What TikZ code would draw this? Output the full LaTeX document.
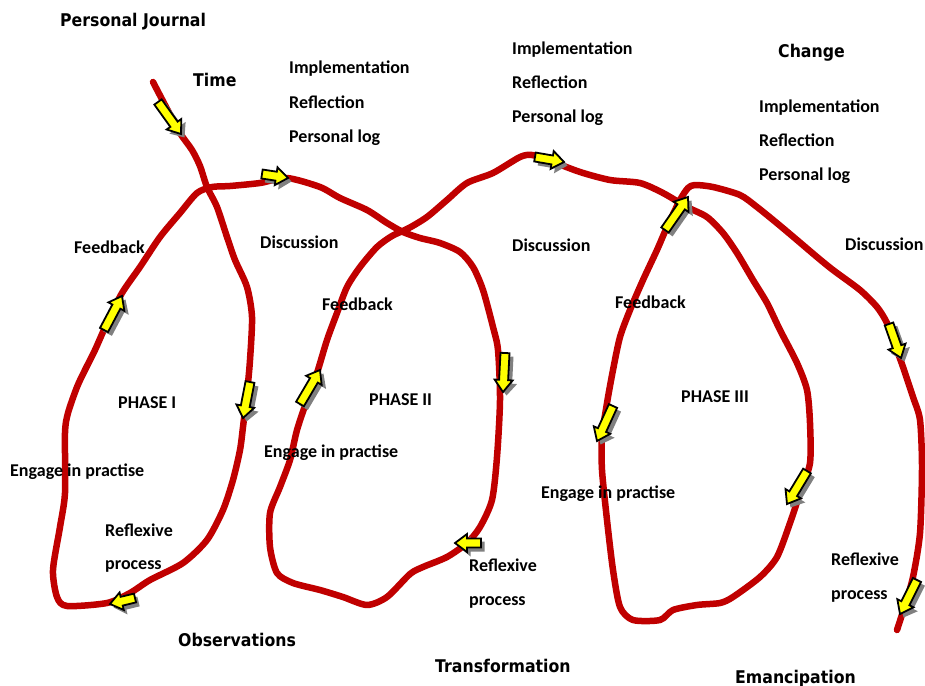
\documentclass[tikz,border=0pt]{standalone}
\usepackage{fontspec}
\setmainfont{Carlito}
\newfontfamily\comicfont{DejaVu Sans}[FakeStretch=0.9]
\usetikzlibrary{calc}
\definecolor{loopred}{HTML}{C00000}
\definecolor{arrowyellow}{HTML}{FFFF00}
\definecolor{arrowshadow}{HTML}{808080}

% Block arrow from tail (#1,#2) to tip (#3,#4), with a drop shadow
\newcommand\flowarrow[4]{%
  \pgfmathsetmacro\arang{atan2(-(#4-#2),#3-#1)}%
  \pgfmathsetmacro\arlen{veclen(#3-#1,#4-#2)}%
  \pgfmathsetmacro\arneck{\arlen-12}%
  \fill[arrowshadow,shift={(#1+3.5,#2+3.5)},rotate=\arang]
    (0,-5) -- (\arneck,-5) -- (\arneck,-10) -- (\arlen,0) -- (\arneck,10) -- (\arneck,5) -- (0,5) -- cycle;
  \filldraw[fill=arrowyellow,draw=black,line width=1.8bp,line join=miter,shift={(#1,#2)},rotate=\arang]
    (0,-4.5) -- (\arneck,-4.5) -- (\arneck,-9) -- (\arlen,0) -- (\arneck,9) -- (\arneck,4.5) -- (0,4.5) -- cycle;
}

\tikzset{
  label/.style={anchor=base west,inner sep=0pt,font=\fontsize{18bp}{20bp}\selectfont\bfseries},
  title/.style={anchor=base west,inner sep=0pt,font=\comicfont\fontsize{17.5bp}{20bp}\selectfont\bfseries},
  cycleline/.style={draw=loopred,line width=6.5bp,line cap=round,line join=round}
}

\begin{document}
\begin{tikzpicture}[x=1bp,y=-1bp]
\useasboundingbox (0,0) rectangle (925,686);
\fill[white] (0,0) rectangle (925,686);

% The spiral of the three action-research cycles
\draw[cycleline] plot[smooth,tension=0.45] coordinates {
 (153,82) (165,105) (180,133) (192,150) (200,166) (207,187) (217,207) (227,237) (235,260)
 (247,287) (252,317) (250,360) (247,393) (243,427) (240,450) (233,480) (223,510)
 (207,540) (183,563) (150,580) (130,593) (107,603) (67,606) (57,597) (53,570)
 (60,527) (65,493) (65,433) (68,413) (77,387) (85,370) (95,350) (107,323) (122,293)
 (140,267) (160,237) (180,213) (197,193) (212,187) (230,186) (260,183) (287,178)
 (320,187) (340,198) (367,210) (387,223) (403,232) (420,238) (440,243) (460,252)
 (473,267) (483,290) (493,327) (498,350) (500,400) (497,457) (492,500) (480,527)
 (467,543) (447,557) (423,567) (410,574) (387,597) (367,605) (343,597) (320,590)
 (293,583) (277,573) (270,547) (270,513) (280,487) (290,460) (297,430) (307,400)
 (317,373) (327,340) (337,313) (347,287) (360,267) (377,247) (392,236) (409,228)
 (427,217) (447,200) (467,183) (493,173) (520,157) (532,155) (548,160) (580,172)
 (610,180) (640,183) (663,193) (687,207) (707,217) (723,233) (737,253) (753,280)
 (767,303) (780,330) (797,363) (807,390) (810,423) (810,463) (800,493) (790,523)
 (777,557) (760,577) (733,597) (720,603) (697,605) (673,610) (660,620) (633,620)
 (620,607) (613,570) (607,520) (602,470) (602,437) (607,403) (613,370) (620,337)
 (630,310) (643,280) (657,250) (667,227) (680,200) (688,188) (695,185) (713,187)
 (740,195) (757,207) (778,224) (797,240) (817,257) (833,270) (860,290) (877,307)
 (887,323) (895,345) (903,367) (913,397) (920,420) (922,467) (920,533) (913,577)
 (905,605) (897,630)
};

% Direction arrows along the spiral
\flowarrow{158}{102}{181}{134}
\flowarrow{262}{174}{288}{178}
\flowarrow{104}{330}{122}{296}
\flowarrow{250}{382}{243}{418}
\flowarrow{135}{598}{110}{604}
\flowarrow{535}{157}{564}{162}
\flowarrow{300}{404}{320}{370}
\flowarrow{505}{353}{503}{392}
\flowarrow{481}{543}{455}{543}
\flowarrow{665}{230}{688}{197}
\flowarrow{613}{406}{597}{441}
\flowarrow{807}{471}{787}{504}
\flowarrow{889}{324}{901}{358}
\flowarrow{917}{580}{900}{614}

% Headings
\node[title] (journal) at (60,27) {Personal Journal};
\node[title] (time) at (193,87) {Time};
\node[title] (change) at (778,58) {Change};
\node[title] (observ) at (178,646) {Observations};
\node[title] (transf) at (435,672) {Transformation};
\node[title] (emanc) at (735,683) {Emancipation};

% Phase I labels
\node[label] (impA) at (289,74) {Implementation};
\node[label] (refA) at (289,109) {Reflection};
\node[label] (logA) at (289,143) {Personal log};
\node[label] (fbA) at (74,253) {Feedback};
\node[label] (discA) at (260,248) {Discussion};
\node[label] (phA) at (118,408) {PHASE I};
\node[label] (engA) at (10,476) {Engage in practise};
\node[label] (rfxA) at (105,536) {Reflexive};
\node[label] (prcA) at (105,569) {process};

% Phase II labels
\node[label] (impB) at (512,55) {Implementation};
\node[label] (refB) at (512,89) {Reflection};
\node[label] (logB) at (512,123) {Personal log};
\node[label] (fbB) at (322,310) {Feedback};
\node[label] (discB) at (512,251) {Discussion};
\node[label] (phB) at (369,405) {PHASE II};
\node[label] (engB) at (264,457) {Engage in practise};
\node[label] (rfxB) at (469,571) {Reflexive};
\node[label] (prcB) at (469,605) {process};

% Phase III labels
\node[label] (impC) at (759,113) {Implementation};
\node[label] (refC) at (759,147) {Reflection};
\node[label] (logC) at (759,181) {Personal log};
\node[label] (fbC) at (615,308) {Feedback};
\node[label] (discC) at (845,250) {Discussion};
\node[label] (phC) at (681,402) {PHASE III};
\node[label] (engC) at (541,498) {Engage in practise};
\node[label] (rfxC) at (831,565) {Reflexive};
\node[label] (prcC) at (831,599) {process};
\end{tikzpicture}
\end{document}
